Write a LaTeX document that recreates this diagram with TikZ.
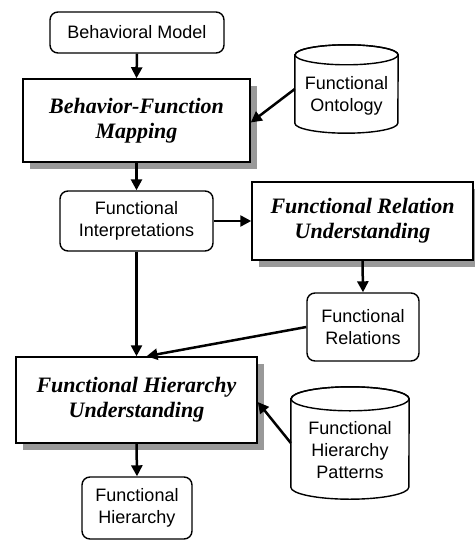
\documentclass[tikz,border=0pt]{standalone}
\usepackage{fontspec}
\setmainfont{Liberation Serif}
\setsansfont{Liberation Sans}
\usetikzlibrary{arrows.meta,shadows}
\tikzset{
  sans/.style={font=\sffamily\fontsize{18}{21.7}\selectfont, align=center, inner sep=0pt},
  roundbox/.style={sans, draw, line width=1.4pt, rounded corners=8pt, fill=white},
  procbox/.style={draw, line width=1.5pt, fill=white, align=center, inner sep=0pt,
    font=\rmfamily\bfseries\itshape\fontsize{22}{25}\selectfont,
    drop shadow={shadow xshift=7pt, shadow yshift=-7pt, fill=black!40, opacity=1}},
  cylbox/.style={inner sep=0pt},
  cylline/.style={line width=1.4pt, fill=white},
  flow/.style={line width=2.5pt, -{Triangle[length=11pt,width=11pt]}},
}
\begin{document}
\begin{tikzpicture}[x=1pt,y=-1pt]
\useasboundingbox (0,0) rectangle (474,540);

\node[roundbox, minimum width=174pt, minimum height=41pt] (bm) at (137,32.5) {Behavioral Model};
\node[procbox, minimum width=227pt, minimum height=83pt] (bfm) at (136.5,120.5) {Behavior-Function\\Mapping};
\node[roundbox, minimum width=153pt, minimum height=60pt] (fi) at (136.5,221) {Functional\\Interpretations};
\node[procbox, minimum width=221pt, minimum height=78pt] (fru) at (362.5,221) {Functional Relation\\Understanding};
\node[roundbox, minimum width=112pt, minimum height=68pt] (fr) at (363,327) {Functional\\Relations};
\node[procbox, minimum width=241pt, minimum height=86pt] (fhu) at (136.5,400) {Functional Hierarchy\\Understanding};
\node[roundbox, minimum width=110pt, minimum height=62pt] (fh) at (137,508) {Functional\\Hierarchy};

% cylinders
\node[cylbox, minimum width=103pt, minimum height=88pt] (fo) at (346.5,89) {};
\draw[cylline] ([yshift=-10pt]fo.north west) -- ([yshift=10pt]fo.south west)
  arc[start angle=180, end angle=360, x radius=51.5pt, y radius=10pt]
  -- ([yshift=-10pt]fo.north east)
  arc[start angle=0, end angle=180, x radius=51.5pt, y radius=10pt] -- cycle;
\draw[line width=1.4pt] ([yshift=-10pt]fo.north) ellipse[x radius=51.5pt, y radius=10pt];
\node[sans] (fot) at ([yshift=-7pt]fo.center) {Functional\\Ontology};

\node[cylbox, minimum width=118pt, minimum height=112pt] (fhp) at (350,443) {};
\draw[cylline] ([yshift=-12pt]fhp.north west) -- ([yshift=12pt]fhp.south west)
  arc[start angle=180, end angle=360, x radius=59pt, y radius=12pt]
  -- ([yshift=-12pt]fhp.north east)
  arc[start angle=0, end angle=180, x radius=59pt, y radius=12pt] -- cycle;
\draw[line width=1.4pt] ([yshift=-12pt]fhp.north) ellipse[x radius=59pt, y radius=12pt];
\node[sans] (fhpt) at ([yshift=-7pt]fhp.center) {Functional\\Hierarchy\\Patterns};

% connectors
\draw[flow] (bm.south) -- (bfm.north);
\draw[flow] (fo.west) -- ([yshift=-2pt]bfm.east);
\draw[flow] (bfm.south) -- (fi.north);
\draw[flow] (fi.east) -- (fru.west);
\draw[flow] (fru.south) -- (fr.north);
\draw[flow] (fi.south) -- (fhu.north);
\draw[flow] (fr.west) -- ([xshift=10pt]fhu.north);
\draw[flow] (fhp.west) -- ([yshift=-2pt]fhu.east);
\draw[flow] (fhu.south) -- (fh.north);
\end{tikzpicture}
\end{document}
